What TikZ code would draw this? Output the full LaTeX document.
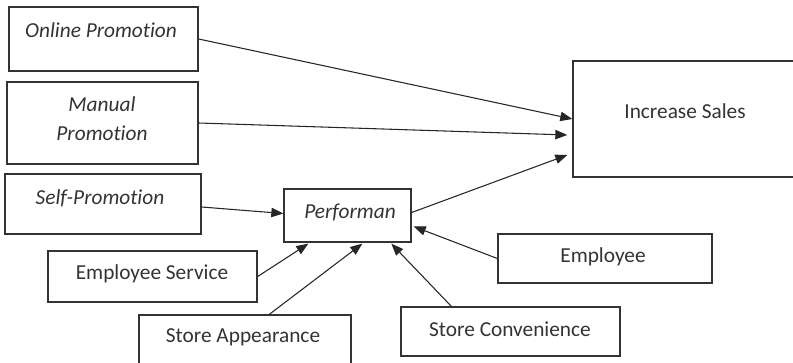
\documentclass[tikz,border=0pt]{standalone}
\usepackage{fontspec}
\setmainfont{Carlito}[Ligatures=NoCommon]
\usetikzlibrary{arrows.meta,calc}
\begin{document}
\begin{tikzpicture}[x=0.75pt,y=-0.75pt,
  box/.style={draw=black!80,line width=1pt,rectangle,inner sep=0pt},
  txt/.style={inner sep=0pt,text=black!80,font=\fontsize{16}{19}\selectfont},
  itxt/.style={txt,font=\fontsize{16}{19}\selectfont\itshape},
  arr/.style={draw=black!85,line width=0.8pt,-{Triangle[length=9pt,width=7pt]}},
  ln/.style={draw=black!85,line width=0.8pt}]
\useasboundingbox (0,0) rectangle (793,363);
% boxes
\node[box,minimum width=141.75pt,minimum height=48pt] (online) at (103.5,39) {};
\node[box,minimum width=143.25pt,minimum height=61.5pt] (manual) at (102.5,123) {};
\node[box,minimum width=147pt,minimum height=45pt] (self) at (103,204) {};
\node[box,minimum width=95.25pt,minimum height=39.75pt] (perf) at (347.5,215.5) {};
\node[box,minimum width=170.25pt,minimum height=87pt] (sales) at (686.5,119) {};
\node[box,minimum width=156.75pt,minimum height=38.25pt] (empserv) at (152.5,276.5) {};
\node[box,minimum width=159pt,minimum height=52.5pt] (storeapp) at (245,350) {};
\node[box,minimum width=160.5pt,minimum height=36.75pt] (employee) at (605,258.5) {};
\node[box,minimum width=164.25pt,minimum height=36.75pt] (storeconv) at (510.5,331.5) {};
% texts
\node[itxt] (tonline) at (101,30) {Online Promotion};
\node[itxt] (tmanual1) at (102,104) {Manual};
\node[itxt] (tmanual2) at (102,133) {Promotion};
\node[itxt] (tself) at (100,198) {Self-Promotion};
\node[itxt] (tperf) at (350,212) {Performan};
\node[txt] (tsales) at (685,111) {Increase Sales};
\node[txt] (tempserv) at (152,274) {Employee Service};
\node[txt] (tstoreapp) at (243,337) {Store Appearance};
\node[txt] (temployee) at (603,257) {Employee};
\node[txt] (tstoreconv) at (510,329) {Store Convenience};
% arrows
\draw[arr] (online.east) -- (sales.west);
\draw[arr] (manual.east) -- ($(sales.west)+(-5,16)$);
\draw[arr] ($(perf.east)+(0,-3)$) -- ($(sales.west)+(-5,36)$);
\draw[arr] ($(self.east)+(0,3)$) -- ($(perf.west)+(0,-2)$);
\draw[arr] (empserv.east) -- ($(perf.south west)+(25,1)$);
\draw[arr] ($(storeapp.north west)+(131,0)$) -- ($(perf.south west)+(79,1)$);
\draw[arr] ($(storeconv.north west)+(51,0)$) -- ($(perf.south west)+(108,1)$);
\draw[arr] (employee.west) -- ($(perf.east)+(2,11)$);
\end{tikzpicture}
\end{document}
